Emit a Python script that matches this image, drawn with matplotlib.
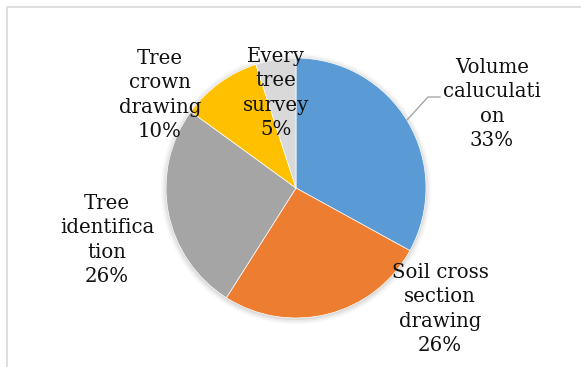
import matplotlib

matplotlib.use("Agg")

import matplotlib.pyplot as plt
from matplotlib.patches import Circle, Rectangle

# data
categories = [
    "Volume\ncaluculati\non",
    "Soil cross\nsection\ndrawing",
    "Tree\nidentifica\ntion",
    "Tree\ncrown\ndrawing",
    "Every\ntree\nsurvey",
]
shares = [33, 26, 26, 10, 5]
colors = ["#5B9BD5", "#ED7D31", "#A5A5A5", "#FFC000", "#D9D9D9"]

# layout (pixel coords, y from top)
W, H = 581, 367
CENTER = (296, 188)
RADIUS = 130
label_pos = [(492, 104), (440, 309), (107, 240), (160, 95), (276, 93)]

plt.rcParams["font.family"] = ["DejaVu Serif"]

fig = plt.figure(figsize=(W / 100, H / 100), dpi=100)
ax = fig.add_axes([0, 0, 1, 1])
ax.set_xlim(0, W)
ax.set_ylim(0, H)
ax.set_aspect("equal")
ax.axis("off")

# chart area border
ax.add_patch(Rectangle((7, -5), W + 10, H - 7 + 5, fill=False,
                       edgecolor="#D9D9D9", linewidth=1.2))

cx, cy = CENTER[0], H - CENTER[1]

# soft shadow
for i, a in enumerate([0.05, 0.04, 0.03, 0.02]):
    ax.add_patch(Circle((cx, cy - 1), RADIUS + 1 + i * 1.5, color="black",
                        alpha=a, linewidth=0, zorder=1))

ax.pie(shares, colors=colors, startangle=90, counterclock=False,
       center=(cx, cy), radius=RADIUS, frame=True,
       wedgeprops={"linewidth": 0.5, "edgecolor": "white", "zorder": 2})
ax.set_xlim(0, W)
ax.set_ylim(0, H)
ax.axis("off")

for name, val, (x, y) in zip(categories, shares, label_pos):
    ax.text(x, H - y, f"{name}\n{val}%", ha="center", va="center",
            fontsize=14.2, linespacing=1.36, color="#111111", zorder=5)

# leader line for the first label
ax.plot([407, 428, 440], [H - 120, H - 97, H - 97], color="#A6A6A6",
        linewidth=1.0, zorder=4)

fig.savefig("out.png", dpi=100)
